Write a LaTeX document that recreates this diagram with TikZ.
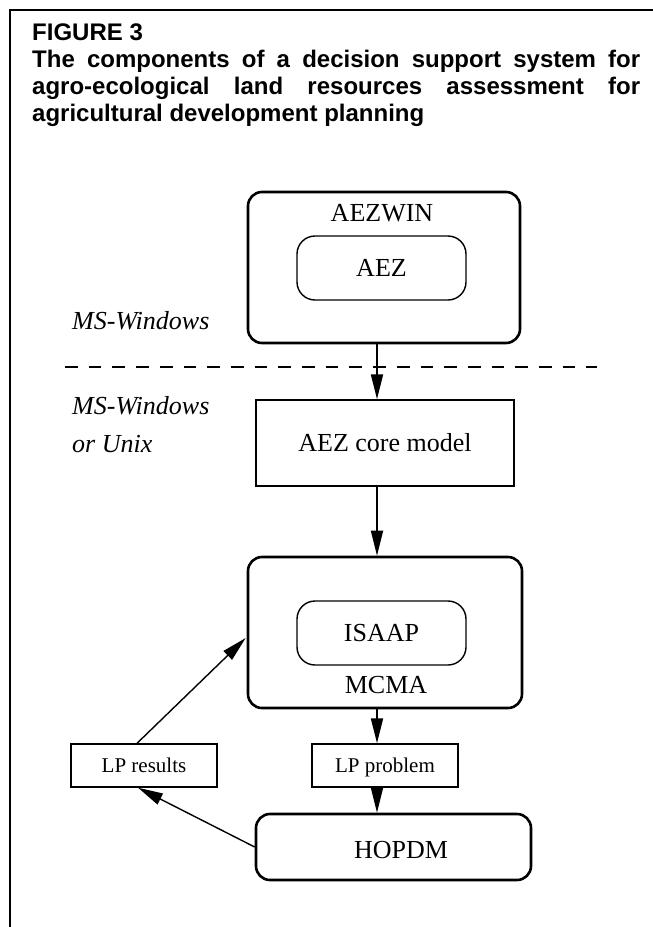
\documentclass[tikz,border=0pt]{standalone}
\usepackage{fontspec}
\setmainfont{Liberation Serif}
\newfontfamily\titlefont{Liberation Sans}
\usetikzlibrary{arrows.meta,calc}
\begin{document}
\begin{tikzpicture}[x=1pt,y=-1pt,
  thickbox/.style={draw,line width=2.6pt,rounded corners=14pt,inner sep=0pt},
  innerbox/.style={draw,line width=1.4pt,rounded corners=18pt,inner sep=0pt,font=\fontsize{26}{30}\selectfont,text height=17pt,text depth=0pt},
  plainbox/.style={draw,line width=1.4pt,inner sep=0pt,font=\fontsize{26}{30}\selectfont,text height=17pt,text depth=0pt},
  lpbox/.style={draw,line width=1.4pt,inner sep=0pt,font=\fontsize{21}{25}\selectfont,text height=14pt,text depth=0pt},
  lbl/.style={inner sep=0pt,font=\fontsize{26}{30}\selectfont},
  oslbl/.style={inner sep=0pt,anchor=base west,font=\fontsize{26}{30}\selectfont\itshape},
  ttl/.style={inner sep=0pt,anchor=base west,font=\titlefont\bfseries\fontsize{24}{28}\selectfont},
  arr/.style={line width=1.8pt,-{Triangle[length=25pt,width=12pt]}},
  arrthin/.style={line width=1.4pt,-{Triangle[length=25pt,width=12pt]}},
  dashline/.style={line width=1.6pt,dash pattern=on 12.7pt off 11pt}]
\useasboundingbox (0,0) rectangle (653,927);
% frame
\coordinate (frameBL) at (10,927);
\coordinate (frameTL) at (10,10);
\coordinate (frameTR) at (653,10);
\draw[line width=2pt] (frameBL) -- (frameTL) -- (frameTR);
% title
\node[ttl] (fig) at (32,40) {FIGURE 3};
\node[ttl] (t2) at (32,67) {\makebox[608pt][s]{The components of a decision support system for}};
\node[ttl] (t3) at (32,94) {\makebox[608pt][s]{agro-ecological land resources assessment for}};
\node[ttl] (t4) at (32,121) {agricultural development planning};
% boxes
\node[thickbox,minimum width=272pt,minimum height=151pt] (aezwin) at (384,267.5) {};
\node[lbl] (aezwinlbl) at (382,213) {AEZWIN};
\node[innerbox,minimum width=169pt,minimum height=64pt] (aez) at (381.5,268) {AEZ};
\node[plainbox,minimum width=258pt,minimum height=86pt] (core) at (385,443) {AEZ core model};
\node[thickbox,minimum width=274pt,minimum height=151pt] (mcma) at (385,632.5) {};
\node[innerbox,minimum width=169pt,minimum height=64pt] (isaap) at (381.5,633) {ISAAP};
\node[lbl] (mcmalbl) at (386,685) {MCMA};
\node[lpbox,minimum width=146pt,minimum height=43pt] (lpres) at (144,765.5) {LP results};
\node[lpbox,minimum width=146pt,minimum height=43pt] (lpprob) at (385,765.5) {LP problem};
\node[thickbox,minimum width=275pt,minimum height=66pt] (hopdm) at (393.5,847) {};
\node[lbl] (hopdmlbl) at (401,850) {HOPDM};
% OS labels
\node[oslbl] (os1) at (72,329) {MS-Windows};
\node[oslbl] (os2) at (72,414) {MS-Windows};
\node[oslbl] (os3) at (72,452) {or Unix};
% dashed separator
\coordinate (dashL) at (65,367);
\coordinate (dashR) at (597,367);
\draw[dashline] (dashL) -- (dashR);
% connectors
\coordinate (spine) at (377,0);
\draw[arr] (aezwin.south -| spine) -- (core.north -| spine);
\draw[arr] (core.south -| spine) -- (mcma.north -| spine);
\draw[arr] (mcma.south -| spine) -- (lpprob.north -| spine);
\draw[arr] (lpprob.south -| spine) -- (hopdm.north -| spine);
\draw[arrthin] ($(lpres.north)+(-7,0)$) -- ($(mcma.west)+(-1,5.5)$);
\draw[arrthin] (hopdm.west) -- ($(lpres.south)+(-6,0)$);
\end{tikzpicture}
\end{document}
